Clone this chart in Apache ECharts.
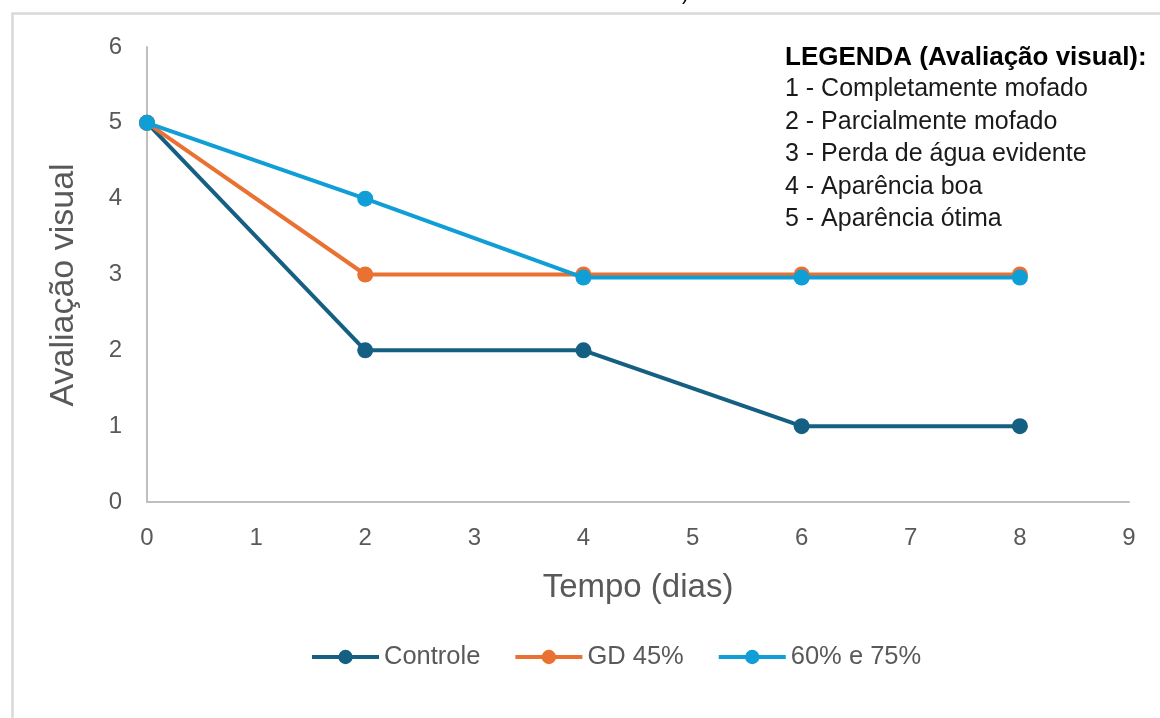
<!DOCTYPE html>
<html>
<head>
<meta charset="utf-8">
<script src="https://cdn.jsdelivr.net/npm/echarts@6/dist/echarts.min.js"></script>
<style>
html,body{margin:0;padding:0;background:#fff;}
#chart{width:1160px;height:718px;}
</style>
</head>
<body>
<div id="chart"></div>
<script>
// ---- data ----
const days = [0, 2, 4, 6, 8];
const controle = [5, 2, 2, 1, 1];
const gd45 = [5, 3, 3, 3, 3];
const g6075 = [5, 4, 2.96, 2.96, 2.96];
const seriesNames = ['Controle', 'GD 45%', '60% e 75%'];
const seriesColors = ['#156082', '#E97132', '#0F9ED5'];
const xAxisTitle = 'Tempo (dias)';
const yAxisTitle = 'Avaliação visual';
const legendTitle = 'LEGENDA (Avaliação visual):';
const legendLines = [
  '1 - Completamente mofado',
  '2 - Parcialmente mofado',
  '3 - Perda de água evidente',
  '4 - Aparência boa',
  '5 - Aparência ótima'
];

const font = '"Liberation Sans", Arial, sans-serif';
const chart = echarts.init(document.getElementById('chart'), null, {renderer: 'canvas'});

function pairs(xs, ys) { return xs.map((x, i) => [x, ys[i]]); }
const allData = [controle, gd45, g6075];

const textEls = [{
  type: 'text', left: 785, top: 45,
  style: {text: legendTitle, fill: '#000', font: 'bold 26px ' + font}
}];
legendLines.forEach((t, i) => {
  textEls.push({
    type: 'text', left: 785, top: 77 + i * 32.5,
    style: {text: t, fill: '#1a1a1a', font: '25px ' + font}
  });
});

chart.setOption({
  backgroundColor: '#fff',
  animation: false,
  grid: {left: 147, right: 31, top: 47, bottom: 216, containLabel: false},
  xAxis: {
    type: 'value', min: 0, max: 9, interval: 1,
    name: xAxisTitle, nameLocation: 'middle', nameGap: 69,
    nameTextStyle: {fontFamily: font, fontSize: 33, color: '#595959'},
    axisLine: {show: true, lineStyle: {color: '#bfbfbf', width: 2}},
    axisTick: {show: false},
    splitLine: {show: false},
    axisLabel: {fontFamily: font, fontSize: 24, color: '#595959', margin: 24}
  },
  yAxis: {
    type: 'value', min: 0, max: 6, interval: 1,
    axisLine: {show: true, lineStyle: {color: '#bfbfbf', width: 2}},
    axisTick: {show: false},
    splitLine: {show: false},
    axisLabel: {fontFamily: font, fontSize: 24, color: '#595959', margin: 25}
  },
  legend: {
    left: 305, top: 639,
    itemWidth: 67, itemHeight: 18, itemGap: 33,
    lineStyle: {width: 4},
    textStyle: {fontFamily: font, fontSize: 25.5, color: '#595959'},
    data: seriesNames
  },
  graphic: [
    {type: 'rect', left: 10, top: 11, shape: {x: 0, y: 0, width: 1200, height: 800},
     style: {fill: 'none', stroke: '#d9d9d9', lineWidth: 2.5}, silent: true},
    {type: 'text', left: 682, top: -16, style: {text: ')', fill: '#000', font: '20px ' + font}},
    {type: 'text', x: 64, y: 285, rotation: Math.PI / 2,
     style: {text: yAxisTitle, fill: '#595959', font: '34px ' + font, align: 'center', verticalAlign: 'middle'}},
    ...textEls
  ],
  series: seriesNames.map((n, i) => ({
    name: n, type: 'line',
    data: pairs(days, allData[i]),
    symbol: 'circle', symbolSize: 16,
    lineStyle: {color: seriesColors[i], width: 4},
    itemStyle: {color: seriesColors[i]},
    z: 2 + i
  }))
});
</script>
</body>
</html>
